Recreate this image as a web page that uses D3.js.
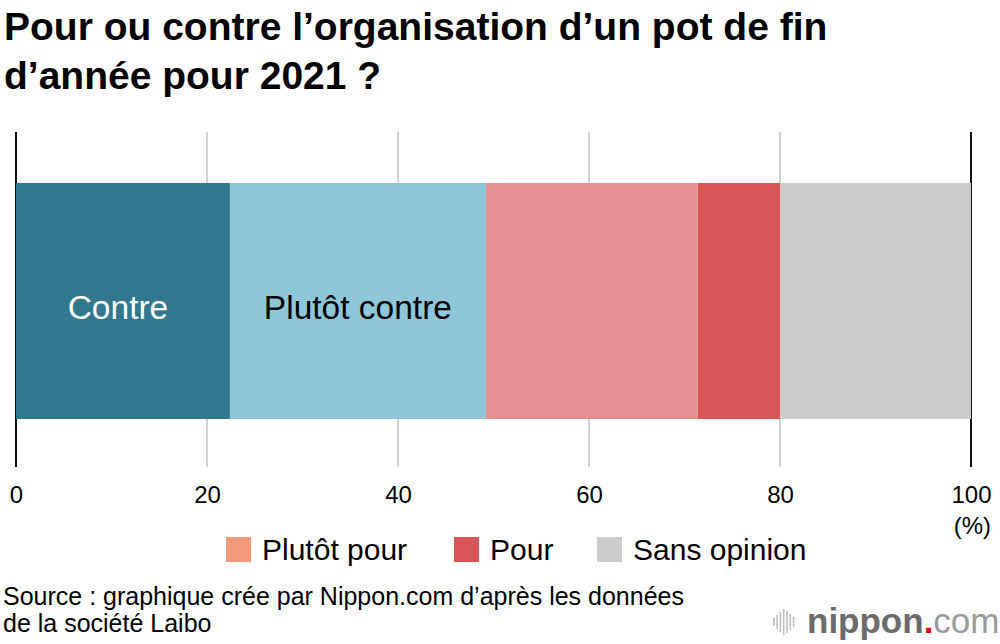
<!DOCTYPE html>
<html>
<head>
<meta charset="utf-8">
<script src="https://cdn.jsdelivr.net/npm/d3@7"></script>
<style>
body { margin: 0; background: #fff; }
text { font-family: "Liberation Sans", Arial, Helvetica, sans-serif; }
</style>
</head>
<body>
<script>
// data (%)
var categories = ["Contre", "Plutôt contre", "Plutôt pour", "Pour", "Sans opinion"];
var values = [22.4, 26.8, 22.2, 8.6, 20.0];
var barColors = ["#31788f", "#8dc7d9", "#e69193", "#d95556", "#cbcbcb"];
var barLabels = ["Contre", "Plutôt contre", "", "", ""];
var labelColors = ["#fff", "#000", "#000", "#000", "#000"];
var legendNames = ["Plutôt pour", "Pour", "Sans opinion"];
var legendColors = ["#f29b7a", "#d95556", "#cbcbcb"];
var tickValues = [0, 20, 40, 60, 80, 100];

var svgWidth = 1000;
var svgHeight = 644;

var svg = d3.select('body').append('svg')
	.attr("width", svgWidth)
	.attr("height", svgHeight);

// title
var title = svg.append("text")
	.attr("x", 5)
	.attr("font-size", 39)
	.attr("font-weight", "bold")
	.attr("fill", "#000");
title.append("tspan").attr("x", 4).attr("y", 40).text("Pour ou contre l’organisation d’un pot de fin");
title.append("tspan").attr("x", 4).attr("y", 89).text("d’année pour 2021 ?");

var x = d3.scaleLinear().domain([0, 100]).range([16, 971]);
var barTop = 183, barBottom = 419;

// grid lines
svg.selectAll('line.grid')
	.data(tickValues)
	.enter()
	.append('line')
	.attr("class", "grid")
	.attr("x1", d => x(d))
	.attr("x2", d => x(d))
	.attr("y1", 132)
	.attr("y2", 467)
	.attr("stroke", function(d){
		if (d === 0 || d === 100) return "#111";
		return "#d2d2d2";
	})
	.attr("stroke-width", 2);

// stacked segments
var starts = [];
var acc = 0;
for (i = 0; i < values.length; i++){
	starts.push(acc);
	acc = acc + values[i];
}

svg.selectAll('rect.seg')
	.data(values)
	.enter()
	.append('rect')
	.attr("class", "seg")
	.attr("x", (d, i) => x(starts[i]))
	.attr("width", (d, i) => x(starts[i] + d) - x(starts[i]))
	.attr("y", barTop)
	.attr("height", barBottom - barTop)
	.style("fill", (d, i) => barColors[i]);

svg.selectAll('text.seglabel')
	.data(values)
	.enter()
	.append('text')
	.attr("class", "seglabel")
	.attr("x", (d, i) => (x(starts[i]) + x(starts[i] + d)) / 2 - (i === 0 ? 5 : 0))
	.attr("y", 319)
	.attr("text-anchor", "middle")
	.attr("font-size", 33.5)
	.attr("fill", (d, i) => labelColors[i])
	.text((d, i) => barLabels[i]);

// axis labels
svg.append("g")
	.attr("transform", "translate(0,468)")
	.call(d3.axisBottom(x).tickValues(tickValues).tickSize(0).tickPadding(0))
	.call(g => g.select(".domain").remove())
	.selectAll("text")
	.attr("dy", 0)
	.attr("y", 35)
	.attr("font-size", 24)
	.attr("font-family", "Liberation Sans, Arial, sans-serif")
	.attr("fill", "#000");

svg.append("text")
	.attr("x", 991)
	.attr("y", 534)
	.attr("text-anchor", "end")
	.attr("font-size", 24)
	.text("(%)");

// legend
var legendX = [226, 454, 597];
var legend = svg.selectAll('g.legend')
	.data(legendNames)
	.enter()
	.append('g')
	.attr("class", "legend")
	.attr("transform", (d, i) => "translate(" + legendX[i] + ",537)");
legend.append('rect')
	.attr("width", 25)
	.attr("height", 25)
	.style("fill", (d, i) => legendColors[i]);
legend.append('text')
	.attr("x", 36)
	.attr("y", 23)
	.attr("font-size", 30)
	.text(d => d);

// source
svg.append("text").attr("x", 3).attr("y", 605).attr("font-size", 25)
	.text("Source : graphique crée par Nippon.com d’après les données");
svg.append("text").attr("x", 3).attr("y", 632).attr("font-size", 25)
	.text("de la société Laibo");

// nippon.com logo
var iconBars = [8, 14, 20, 26, 22, 16, 10];
svg.selectAll('rect.icon')
	.data(iconBars)
	.enter()
	.append('rect')
	.attr("class", "icon")
	.attr("x", (d, i) => 773 + i * 3.3)
	.attr("y", d => 622 - d / 2)
	.attr("width", 1.6)
	.attr("height", d => d)
	.style("fill", "#bdbdbd");

var logo = svg.append("text")
	.attr("x", 807)
	.attr("y", 633)
	.attr("font-size", 35);
logo.append("tspan").attr("font-weight", "bold").attr("fill", "#6b6b6b").text("nippon");
logo.append("tspan").attr("fill", "#e60012").attr("font-weight", "bold").text(".");
logo.append("tspan").attr("fill", "#9a9a9a").attr("font-weight", "300").text("com");
</script>
</body>
</html>
